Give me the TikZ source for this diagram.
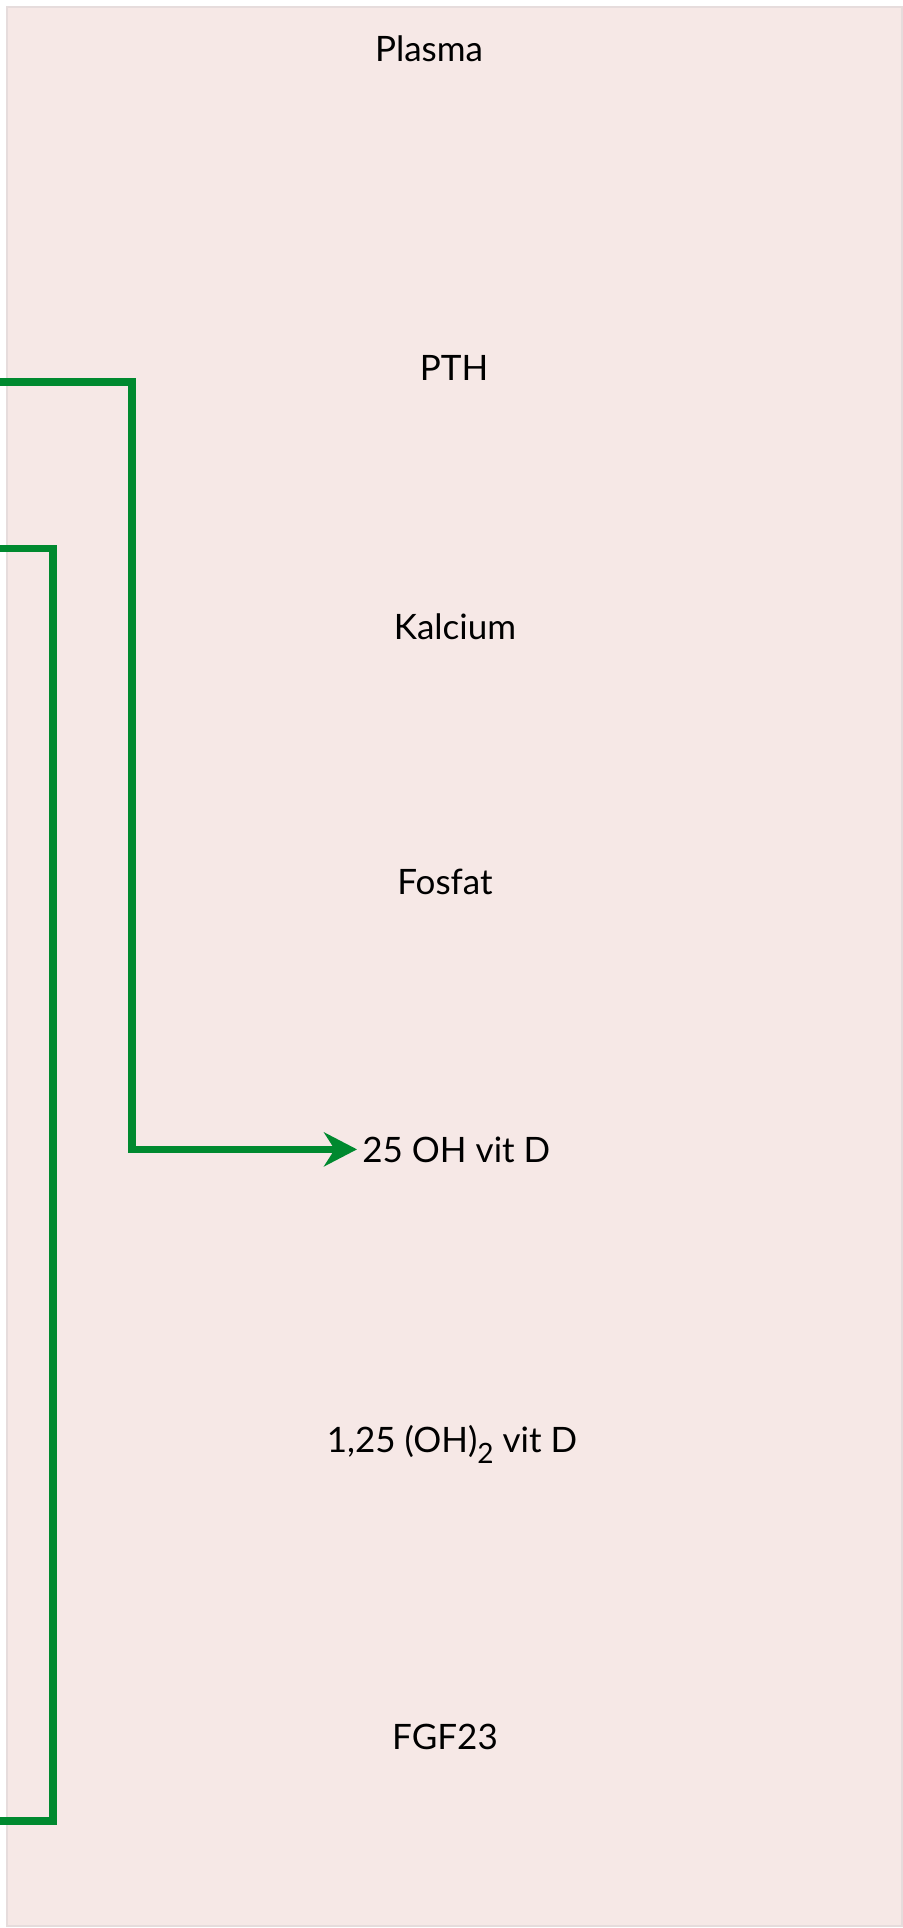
\documentclass[tikz,border=0pt]{standalone}
\usepackage{fontspec}
\setmainfont{Lato}
\usetikzlibrary{arrows.meta}
\definecolor{plasmabg}{RGB}{246,232,230}
\definecolor{plasmaedge}{RGB}{230,220,220}
\definecolor{pathgreen}{RGB}{0,137,47}
\begin{document}
\begin{tikzpicture}[x=0.5pt,y=-0.5pt,
  lbl/.style={font=\fontsize{17.5}{21}\selectfont, inner sep=0pt, anchor=base},
  link/.style={draw=pathgreen, line width=3.75pt, line join=miter}]
\useasboundingbox (0,0) rectangle (903,1928);
\fill[white] (0,0) rectangle (903,1928);
% plasma compartment
\draw[fill=plasmabg, draw=plasmaedge, line width=1pt] (6.5,6.5) rectangle (901.5,1926);

\node[lbl] (plasma) at (429,61) {Plasma};
\node[lbl] (pth) at (454,380) {PTH};
\node[lbl] (ca) at (455,639) {Kalcium};
\node[lbl] (pi) at (445,894) {Fosfat};
\node[lbl, anchor=base west] (vitd) at (362,1162) {25 OH vit D};
\node[lbl] (calcitriol) at (452,1452) {1,25 (OH)\raisebox{-5.5pt}{\fontsize{14}{16}\selectfont 2} vit D};
\node[lbl] (fgf) at (445,1749) {FGF23};

% incoming pathways from the left
\coordinate (inA) at (0,382);
\coordinate (inB) at (0,548.5);
\coordinate (outB) at (0,1821);

\draw[link, -{Stealth[length=16.5pt, width=17pt]}, shorten >=2.5pt]
  (inA) -- ++(132,0) |- (vitd.west);
\draw[link] (inB) -- ++(53,0) |- (outB);
\end{tikzpicture}
\end{document}
